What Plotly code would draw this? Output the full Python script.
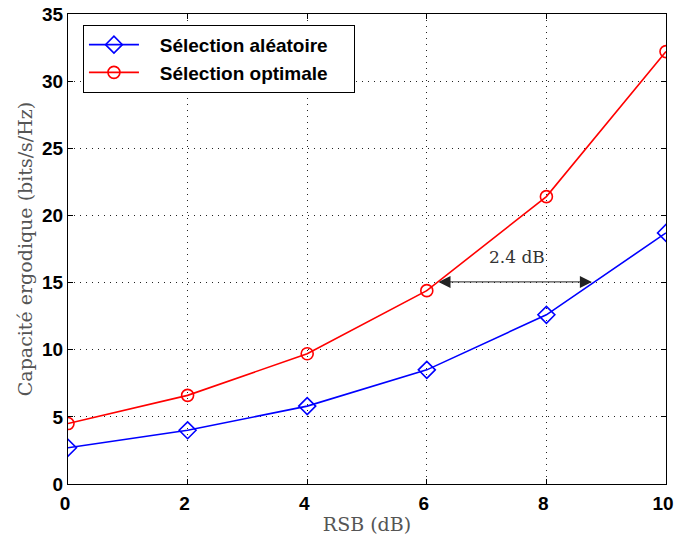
import plotly.graph_objects as go

snr = [0, 2, 4, 6, 8, 10]
random_sel = [2.7, 4.0, 5.8, 8.5, 12.6, 18.7]
optimal_sel = [4.5, 6.6, 9.7, 14.4, 21.4, 32.2]
x_ticks = [0, 2, 4, 6, 8, 10]
y_ticks = [0, 5, 10, 15, 20, 25, 30, 35]
series_names = ["Sélection aléatoire", "Sélection optimale"]

PAD_L = "\u00a0" * 3
PAD_R = "\u00a0" * 4

fig = go.Figure()
fig.add_trace(go.Scatter(
    x=snr, y=random_sel, mode="lines+markers", name=PAD_L + series_names[0] + PAD_R,
    line=dict(color="#0000ff", width=1.6),
    marker=dict(symbol="diamond-open", size=13, color="#0000ff", line=dict(width=1.6)),
))
fig.add_trace(go.Scatter(
    x=snr, y=optimal_sel, mode="lines+markers", name=PAD_L + series_names[1] + PAD_R,
    line=dict(color="#ff0000", width=1.6),
    marker=dict(symbol="circle-open", size=12, color="#ff0000", line=dict(width=1.6)),
))

# double-headed arrow
fig.add_annotation(x=8.76, y=15.05, ax=6.17, ay=15.05, xref="x", yref="y",
                   axref="x", ayref="y", text="", showarrow=True,
                   arrowhead=2, startarrowhead=2, arrowside="end+start",
                   arrowsize=2.4, startarrowsize=2.4, arrowwidth=1, arrowcolor="#222222")
fig.add_annotation(x=7.51, y=16.94, xref="x", yref="y", text="2.4 dB", showarrow=False,
                   font=dict(family="DejaVu Serif, serif", size=17, color="#333333"))

axis_common = dict(
    showline=True, linecolor="black", linewidth=1, mirror="ticks",
    ticks="inside", ticklen=5, tickcolor="black",
    showgrid=True, gridcolor="#222222", gridwidth=1, griddash="1px,5px",
    zeroline=False, automargin=False, ticklabeloverflow="allow",
    tickfont=dict(family="Liberation Sans, Arial", size=19, color="black", weight="bold"),
)

fig.update_xaxes(range=[0, 10], tickvals=x_ticks, **axis_common, ticklabelstandoff=2,
                 ticklabelshift=-3,
                 title=dict(text="RSB (dB)", standoff=4,
                            font=dict(family="DejaVu Serif, serif", size=19, color="#555555")))
fig.update_yaxes(range=[0, 35], tickvals=y_ticks, **axis_common,
                 title=dict(text="Capacité ergodique (bits/s/Hz)", standoff=4,
                            font=dict(family="DejaVu Serif, serif", size=19, color="#555555")))

fig.update_layout(
    width=675, height=538,
    margin=dict(l=68, r=9, t=14, b=54),
    paper_bgcolor="white", plot_bgcolor="white",
    legend=dict(x=0.025, y=0.977, xanchor="left", yanchor="top",
                bordercolor="black", borderwidth=1, bgcolor="white",
                font=dict(family="Liberation Sans, Arial", size=19, color="black", weight="bold"),
                itemwidth=50, tracegroupgap=0),
    showlegend=True,
)

fig.write_html("out.html", config={"displayModeBar": False},
               post_script="document.body.style.margin='0';document.body.style.overflow='hidden';")
